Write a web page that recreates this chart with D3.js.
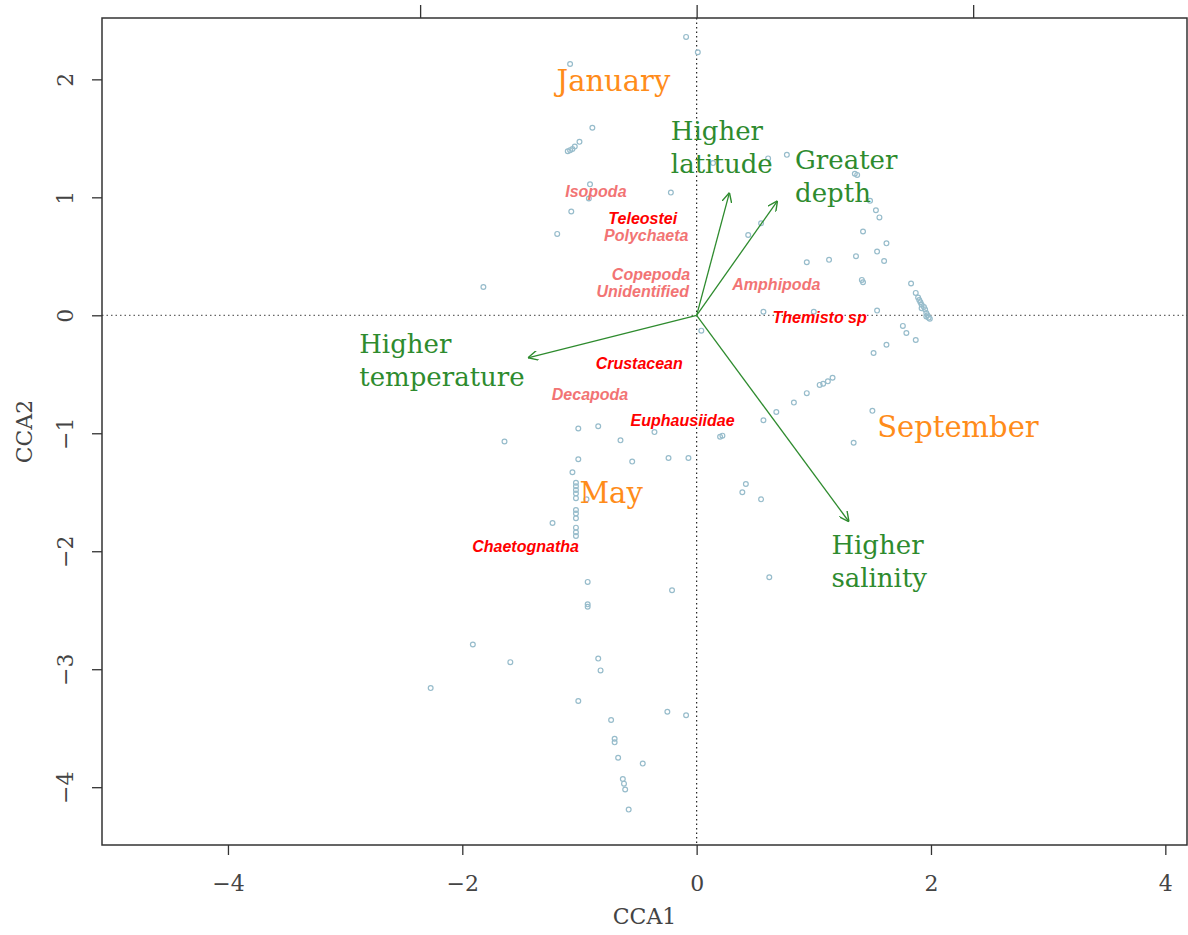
<!DOCTYPE html>
<html>
<head>
<meta charset="utf-8">
<script src="https://cdn.jsdelivr.net/npm/d3@7"></script>
<style>
  body { margin: 0; background: #fff; }
</style>
</head>
<body>
<div id="chart"></div>
<script>
// site scores (CCA1, CCA2)
const siteX = [-0.09, 0.01, -1.08, -0.89, -1.00, -1.10, -1.08, -1.06, -1.04, 0.61, 0.77, 0.14,
  -0.91, -0.92, -0.22, -1.07, -1.19, -1.82, 0.55, 0.44, 0.57,
  1.35, 1.37, 1.48, 1.53, 1.56, 1.42, 1.62, 1.54, 1.60, 1.36, 1.13, 0.94, 1.41, 1.42,
  1.83, 1.87, 1.89, 1.90, 1.91, 1.92, 1.92, 1.94, 1.95, 1.96, 1.97, 1.96, 1.98, 1.99,
  1.00, 1.54, 1.76, 1.79, 1.87, 1.62, 1.51, 0.04,
  0.94, 1.05, 1.08, 1.12, 1.16, 0.83, 0.68, 0.57, 1.50, 1.34, 0.20, 0.22,
  -1.01, -0.84, -1.64, -0.65, -0.36, -1.01, -0.55, -0.24, -0.07, -1.06,
  -1.03, -1.03, -1.03, -1.03, -1.03, -0.94, -1.03, -1.03, -1.03, -1.03, -1.03, -1.03, -1.23,
  0.42, 0.39, 0.55, 0.62,
  -0.93, -0.93, -0.93, -0.21, -1.91, -1.59, -2.27, -0.84, -0.82, -1.01, -0.25, -0.09,
  -0.73, -0.70, -0.70, -0.67, -0.46, -0.63, -0.62, -0.61, -0.58];
const siteY = [2.36, 2.23, 2.13, 1.59, 1.47, 1.39, 1.40, 1.41, 1.43, 1.33, 1.36, 1.29,
  1.11, 0.99, 1.04, 0.88, 0.69, 0.24, 0.78, 0.68, 0.03,
  1.20, 1.19, 0.97, 0.89, 0.83, 0.71, 0.61, 0.54, 0.46, 0.50, 0.47, 0.45, 0.30, 0.28,
  0.27, 0.19, 0.15, 0.13, 0.11, 0.09, 0.06, 0.07, 0.05, 0.02, 0.00, -0.01, -0.02, -0.03,
  0.03, 0.04, -0.09, -0.15, -0.21, -0.25, -0.32, -0.13,
  -0.66, -0.59, -0.58, -0.56, -0.53, -0.74, -0.82, -0.89, -0.81, -1.08, -1.03, -1.02,
  -0.96, -0.94, -1.07, -1.06, -0.99, -1.22, -1.24, -1.21, -1.21, -1.33,
  -1.42, -1.45, -1.48, -1.51, -1.55, -1.56, -1.65, -1.68, -1.72, -1.80, -1.84, -1.87, -1.76,
  -1.43, -1.50, -1.56, -2.22,
  -2.26, -2.45, -2.47, -2.33, -2.79, -2.94, -3.16, -2.91, -3.01, -3.27, -3.36, -3.39,
  -3.43, -3.59, -3.62, -3.75, -3.80, -3.93, -3.97, -4.02, -4.19];

// species scores
const speciesNames = ["Isopoda", "Teleostei", "Polychaeta", "Copepoda", "Unidentified", "Amphipoda",
  "Themisto sp", "Crustacean", "Decapoda", "Euphausiidae", "Chaetognatha"];
const speciesX = [-0.86, -0.46, -0.43, -0.39, -0.46, 0.68, 1.05, -0.49, -0.91, -0.12, -1.46];
const speciesY = [1.05, 0.82, 0.68, 0.35, 0.20, 0.26, -0.02, -0.41, -0.67, -0.89, -1.96];
const speciesStrong = [false, true, false, false, false, false, true, true, false, true, true];

// environmental vectors
const envNames = [["Higher", "latitude"], ["Greater", "depth"], ["Higher", "temperature"], ["Higher", "salinity"]];
const envX = [0.28, 0.69, -1.44, 1.30];
const envY = [1.04, 0.97, -0.36, -1.75];
const envLabelX = [-0.22, 0.84, -2.88, 1.15];
const envLabelY = [1.49, 1.24, -0.32, -2.02];

// month labels
const monthNames = ["January", "May", "September"];
const monthX = [-0.71, -0.73, 2.23];
const monthY = [1.99, -1.50, -0.94];

const xTicks = [-4, -2, 0, 2, 4];
const yTicks = [-4, -3, -2, -1, 0, 1, 2];
const topTicks = [-2.36, 0, 2.36];

const width = 1188, height = 935;
const margin = { left: 102, right: 1, top: 18, bottom: 90 };

const svg = d3.select("#chart").append("svg")
    .attr("width", width)
    .attr("height", height);

const x = d3.scaleLinear().domain([-5.075, 4.185]).range([margin.left, width - margin.right]);
const y = d3.scaleLinear().domain([-4.49, 2.52]).range([height - margin.bottom, margin.top]);

const serif = "'DejaVu Serif', serif";
const axisColor = "#333";

// zero lines
svg.append("line")
    .attr("x1", x(0)).attr("x2", x(0))
    .attr("y1", y.range()[1]).attr("y2", y.range()[0])
    .attr("stroke", "#222").attr("stroke-width", 1.2).attr("stroke-dasharray", "1.5,3");
svg.append("line")
    .attr("x1", x.range()[0]).attr("x2", x.range()[1])
    .attr("y1", y(0)).attr("y2", y(0))
    .attr("stroke", "#666").attr("stroke-width", 1.2).attr("stroke-dasharray", "1.5,3");

// site points
svg.selectAll(".site")
    .data(siteX.map((d, i) => [d, siteY[i]]))
    .join("circle")
    .attr("class", "site")
    .attr("cx", d => x(d[0]))
    .attr("cy", d => y(d[1]))
    .attr("r", 2.4)
    .attr("fill", "none")
    .attr("stroke", "#97bccb")
    .attr("stroke-width", 1.2);

// arrows
svg.append("defs").append("marker")
    .attr("id", "arrowhead")
    .attr("viewBox", "0 0 10 10")
    .attr("refX", 10).attr("refY", 5)
    .attr("markerWidth", 10).attr("markerHeight", 10)
    .attr("markerUnits", "userSpaceOnUse")
    .attr("orient", "auto")
    .append("path")
    .attr("d", "M0,0 L10,5 L0,10")
    .attr("fill", "none")
    .attr("stroke", "#2e8b2e")
    .attr("stroke-width", 1.4);

svg.selectAll(".env")
    .data(envX.map((d, i) => [d, envY[i]]))
    .join("line")
    .attr("class", "env")
    .attr("x1", x(0)).attr("y1", y(0))
    .attr("x2", d => x(d[0]))
    .attr("y2", d => y(d[1]))
    .attr("stroke", "#2e8b2e")
    .attr("stroke-width", 1.3)
    .attr("marker-end", "url(#arrowhead)");

// env labels
envNames.forEach((lines, i) => {
    const t = svg.append("text")
        .attr("x", x(envLabelX[i]))
        .attr("y", y(envLabelY[i]))
        .attr("font-family", serif)
        .attr("font-size", 26)
        .attr("fill", "#2e8b2e");
    lines.forEach((l, j) => {
        t.append("tspan")
            .attr("x", x(envLabelX[i]))
            .attr("dy", j === 0 ? 0 : 33)
            .text(l);
    });
});

// species labels
svg.selectAll(".species")
    .data(speciesNames)
    .join("text")
    .attr("class", "species")
    .attr("x", (d, i) => x(speciesX[i]))
    .attr("y", (d, i) => y(speciesY[i]))
    .attr("dy", "0.36em")
    .attr("text-anchor", "middle")
    .attr("font-family", "'Liberation Sans', Arial, sans-serif")
    .attr("font-weight", "bold")
    .attr("font-style", "italic")
    .attr("font-size", 16)
    .attr("fill", (d, i) => speciesStrong[i] ? "#ff0000" : "#f27474")
    .text(d => d);

// month labels
svg.selectAll(".month")
    .data(monthNames)
    .join("text")
    .attr("class", "month")
    .attr("x", (d, i) => x(monthX[i]))
    .attr("y", (d, i) => y(monthY[i]))
    .attr("dy", "0.36em")
    .attr("text-anchor", "middle")
    .attr("font-family", serif)
    .attr("font-size", 29)
    .attr("fill", "#ff8c1a")
    .text(d => d);

// axes
const fmt = d => d < 0 ? "\u2212" + Math.abs(d) : d;

const xAxis = svg.append("g")
    .attr("transform", `translate(0, ${y.range()[0]})`)
    .call(d3.axisBottom(x).tickValues(xTicks).tickSize(10).tickPadding(20).tickFormat(fmt));

const yAxis = svg.append("g")
    .attr("transform", `translate(${margin.left}, 0)`)
    .call(d3.axisLeft(y).tickValues(yTicks).tickSize(10).tickFormat(fmt));
yAxis.selectAll(".tick text")
    .attr("transform", "rotate(-90)")
    .attr("x", 0).attr("y", -29)
    .attr("dy", 0)
    .attr("text-anchor", "middle");

const topAxis = svg.append("g")
    .attr("transform", `translate(0, ${margin.top})`)
    .call(d3.axisTop(x).tickValues(topTicks).tickSize(13).tickFormat(""));

[xAxis, yAxis, topAxis].forEach(g => {
    g.select(".domain").remove();
    g.selectAll(".tick line").attr("stroke", axisColor).attr("stroke-width", 1.3);
    g.selectAll(".tick text")
        .attr("font-family", serif)
        .attr("font-size", 22)
        .attr("fill", "#444");
});

// box
svg.append("rect")
    .attr("x", x.range()[0]).attr("y", y.range()[1])
    .attr("width", x.range()[1] - x.range()[0])
    .attr("height", y.range()[0] - y.range()[1])
    .attr("fill", "none")
    .attr("stroke", axisColor)
    .attr("stroke-width", 1.5);

// axis titles
svg.append("text")
    .attr("x", (x.range()[0] + x.range()[1]) / 2)
    .attr("y", 924)
    .attr("text-anchor", "middle")
    .attr("font-family", serif)
    .attr("font-size", 22)
    .attr("fill", "#444")
    .text("CCA1");

svg.append("text")
    .attr("transform", `translate(32, ${(y.range()[0] + y.range()[1]) / 2}) rotate(-90)`)
    .attr("text-anchor", "middle")
    .attr("font-family", serif)
    .attr("font-size", 22)
    .attr("fill", "#444")
    .text("CCA2");
</script>
</body>
</html>
